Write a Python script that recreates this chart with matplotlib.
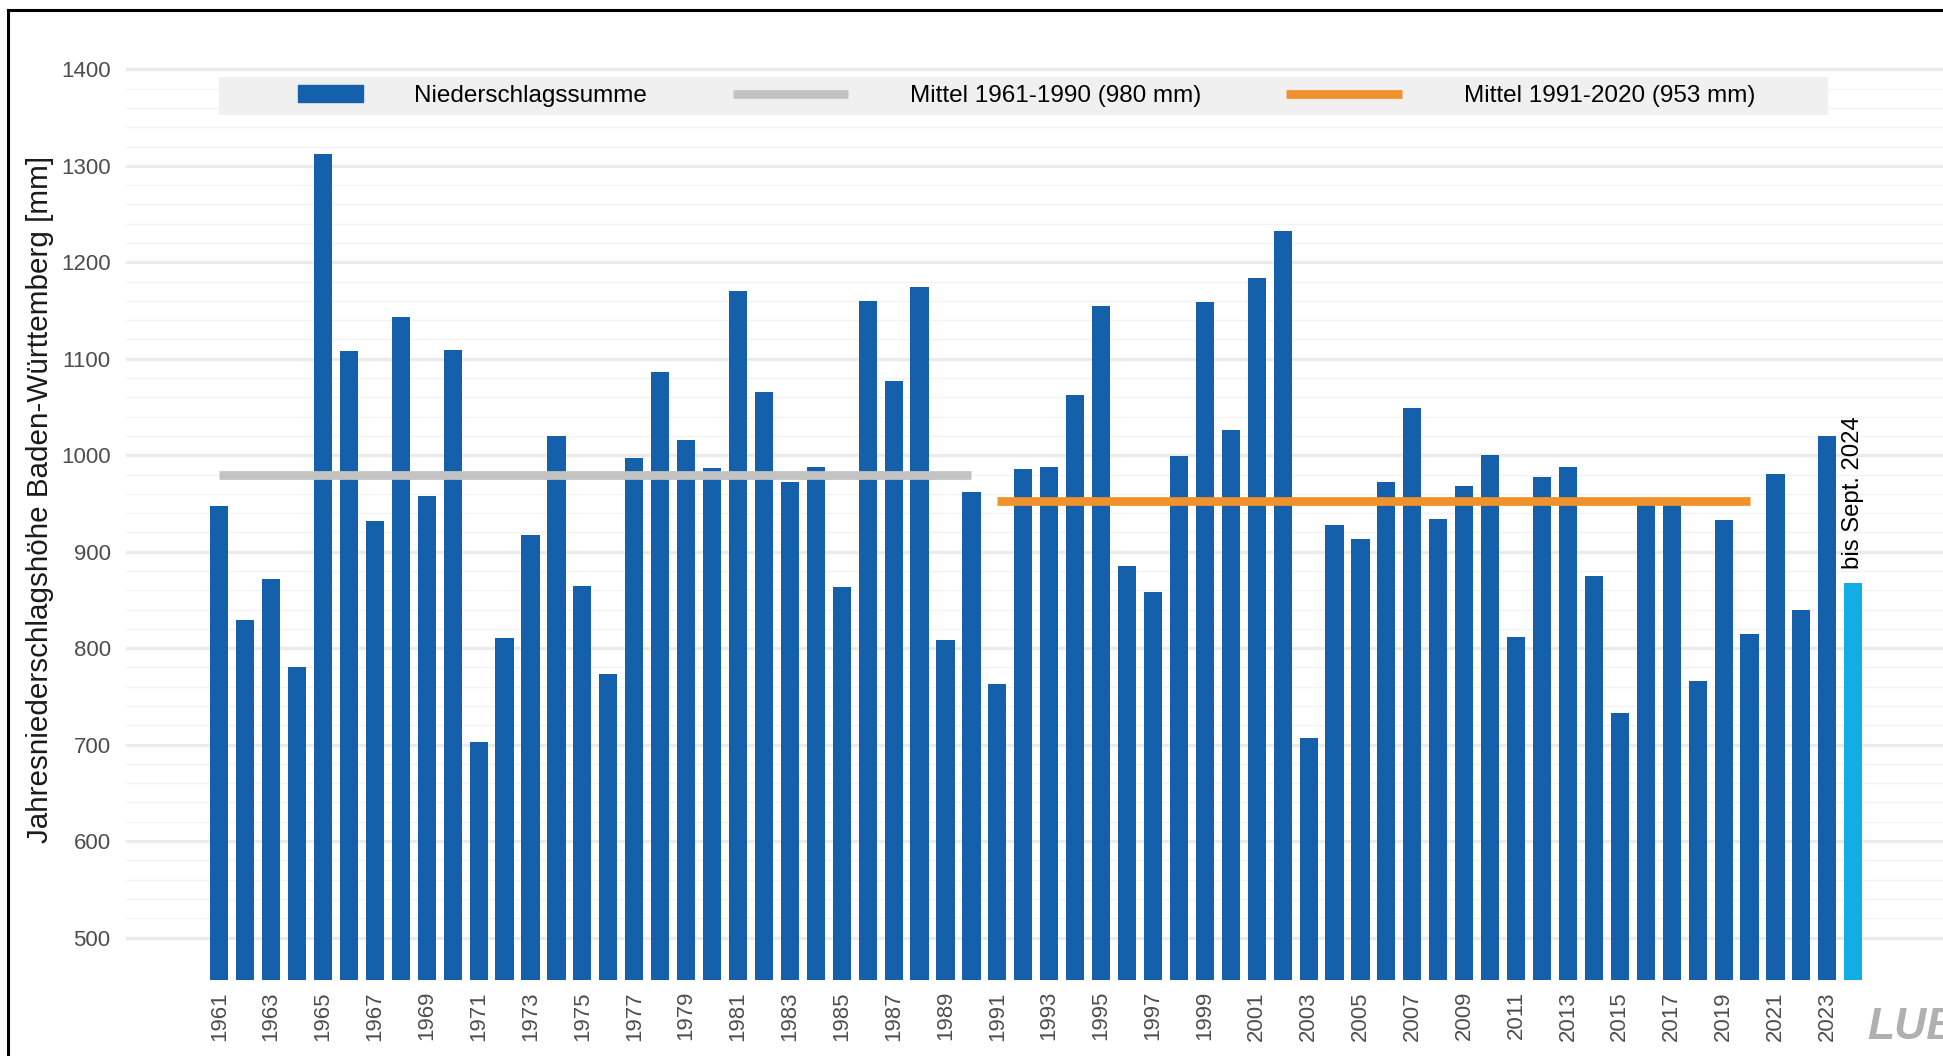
import numpy as np
import matplotlib
matplotlib.use("Agg")
import matplotlib.pyplot as plt
from matplotlib.lines import Line2D
from matplotlib.patches import Patch, Rectangle
from matplotlib.legend_handler import HandlerPatch
from matplotlib.ticker import FixedLocator

# Daten: Jahresniederschlag Baden-Württemberg [mm]
years = np.arange(1961, 2025)
niederschlag = [
    947, 829, 872, 780, 1312, 1108, 932, 1143, 958, 1109,   # 1961-1970
    703, 810, 917, 1020, 864, 773, 997, 1086, 1016, 987,    # 1971-1980
    1170, 1066, 972, 988, 863, 1160, 1077, 1174, 808, 962,  # 1981-1990
    763, 986, 988, 1062, 1155, 885, 858, 999, 1159, 1026,   # 1991-2000
    1184, 1232, 707, 928, 913, 972, 1049, 934, 968, 1000,   # 2001-2010
    812, 977, 988, 875, 733, 952, 951, 766, 933, 815,       # 2011-2020
    981, 840, 1020, 868,                                    # 2021-2024
]
mittel_alt = (1961, 1990, 980)
mittel_neu = (1991, 2020, 953)
partial_year = 2024

CONFIG = {
    "color_bar": "#1560AA",
    "color_partial": "#12ADE5",
    "color_old": "#C3C3C3",
    "color_new": "#F0922B",
    "grid_major": "#EBEBEB",
    "grid_minor": "#F3F3F3",
    "tick_color": "#4D4D4D",
    "legend_bg": "#F0F0F0",
    "ylim": (456, 1415),
    "xlim": (1957.4, 2027.46),
    "label_y": "Jahresniederschlagshöhe Baden-Württemberg [mm]",
    "label_bar": "Niederschlagssumme",
    "label_old": "Mittel 1961-1990 (980 mm)",
    "label_new": "Mittel 1991-2020 (953 mm)",
    "note": "bis Sept. 2024",
    "figsize": (19.43, 10.56),
    "dpi": 100,
}

plt.rcParams["font.family"] = ["Liberation Sans", "DejaVu Sans"]

W, H = 1943, 1056  # Pixelmaße der Vorlage


def bar_key(legend, orig_handle, xdescent, ydescent, width, height, fontsize):
    # kürzerer Balken-Schlüssel als die Linien
    return Rectangle((-xdescent + 0.53 * width, -ydescent), 0.56 * width, height)


def make_plot(cfg):
    fig = plt.figure(figsize=cfg["figsize"], dpi=cfg["dpi"])
    ax = fig.add_axes([0.0648, 0.072, 0.9352, 0.876])

    colors = [cfg["color_partial"] if y == partial_year else cfg["color_bar"] for y in years]
    ax.bar(years, niederschlag, width=0.7, color=colors, zorder=2)

    # Mittelwerte der Referenzperioden
    ax.plot([mittel_alt[0], mittel_alt[1]], [mittel_alt[2]] * 2, color=cfg["color_old"],
            lw=6.3, solid_capstyle="butt", zorder=3)
    ax.plot([mittel_neu[0], mittel_neu[1]], [mittel_neu[2]] * 2, color=cfg["color_new"],
            lw=6.3, solid_capstyle="butt", zorder=3)

    # Hinweis über dem letzten Balken
    ax.text(partial_year, niederschlag[-1] + 14, cfg["note"], rotation=90,
            ha="center", va="bottom", fontsize=17.2, color="black")

    ax.set_xlim(*cfg["xlim"])
    ax.set_ylim(*cfg["ylim"])
    ax.set_xticks(years[::2])
    ax.set_xticklabels([str(y) for y in years[::2]], rotation=90)
    ax.set_yticks(np.arange(500, 1401, 100))
    ax.yaxis.set_minor_locator(FixedLocator([v for v in range(500, 1401, 20) if v % 100]))
    ax.tick_params(axis="both", which="both", length=0, labelsize=16, labelcolor=cfg["tick_color"])
    ax.tick_params(axis="y", pad=11)
    ax.tick_params(axis="x", pad=8)

    ax.grid(axis="y", which="major", color=cfg["grid_major"], lw=2.4)
    ax.grid(axis="y", which="minor", color=cfg["grid_minor"], lw=1.0)
    ax.grid(axis="x", visible=False)
    ax.set_axisbelow(True)
    for s in ax.spines.values():
        s.set_visible(False)

    ax.set_ylabel(cfg["label_y"], fontsize=21.3, color="#1A1A1A")
    ax.yaxis.set_label_coords(-0.0394, 0.52)

    # Legende: grauer Hintergrundstreifen + Einträge
    fig.add_artist(Rectangle((219 / W, 1 - 115 / H), (1828 - 219) / W, 38 / H,
                             transform=fig.transFigure, facecolor=cfg["legend_bg"],
                             edgecolor="none", zorder=3))
    handles = [
        Patch(color=cfg["color_bar"], label=cfg["label_bar"]),
        Line2D([], [], color=cfg["color_old"], lw=6.3, solid_capstyle="butt", label=cfg["label_old"]),
        Line2D([], [], color=cfg["color_new"], lw=6.3, solid_capstyle="butt", label=cfg["label_new"]),
    ]
    leg = fig.legend(
        handles=handles,
        handler_map={Patch: HandlerPatch(patch_func=bar_key)},
        loc="center",
        bbox_to_anchor=(237 / W, 1 - 96 / H - 0.01, (1755 - 237) / W, 0.02),
        bbox_transform=fig.transFigure,
        mode="expand",
        ncol=3,
        frameon=False,
        fontsize=17.5,
        handlelength=4.75,
        handletextpad=2.54,
        borderpad=0,
        borderaxespad=0,
    )
    leg.set_zorder(5)

    # Rahmen (oben und links) wie im Ausschnitt
    fig.add_artist(Line2D([8 / W, 1.0], [1 - 10 / H] * 2, color="black", lw=2.2,
                          transform=fig.transFigure))
    fig.add_artist(Line2D([8 / W] * 2, [0, 1 - 10 / H], color="black", lw=2.2,
                          transform=fig.transFigure))

    # Logo, rechts unten angeschnitten
    fig.text(0.961, 0.008, "LUBW", fontsize=32, fontweight="bold", fontstyle="italic",
             color="#B0B0B0", ha="left", va="bottom")

    fig.savefig("out.png", dpi=cfg["dpi"])


if __name__ == "__main__":
    make_plot(CONFIG)
